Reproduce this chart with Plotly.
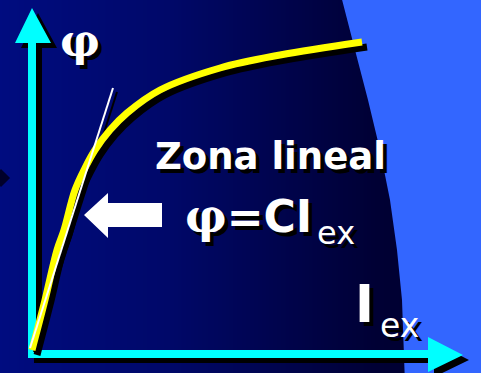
import numpy as np
import plotly.graph_objects as go

# ---- data (diagram units: origin at the axes corner) ----
iex = [0, 13, 25, 32, 43, 53, 63, 78, 95, 128, 188, 248, 330]
phi = [4, 54, 104, 124, 164, 186, 204, 224, 241, 264, 286, 299, 312]
tangent_x = [-2, 81]
tangent_y = [6, 266]

# lighter background region boundary (right side)
region_x = [306, 323, 336, 348, 358, 365, 370, 373, 470, 470]
region_y = [370, 304, 254, 204, 154, 104, 54, -30, -30, 370]

# view range
XR = [-32, 449]
YR = [-19, 354]

W, H = 481, 373
SH = 5  # shadow offset

fig = go.Figure()

# background gradient
gx = np.linspace(XR[0] - 2, XR[1] + 2, 120)
gz = [list(gx), list(gx)]
fig.add_trace(go.Heatmap(
    x=gx, y=[YR[0] - 2, YR[1] + 2], z=gz, zsmooth="best", showscale=False,
    hoverinfo="skip",
    colorscale=[[0.0, "rgb(0,12,128)"], [0.35, "rgb(0,8,105)"],
                [0.62, "rgb(0,3,72)"], [0.78, "rgb(0,0,52)"], [1.0, "rgb(0,0,45)"]],
))

# light blue region
fig.add_trace(go.Scatter(x=region_x, y=region_y, fill="toself", mode="none",
                         fillcolor="#3366FF", hoverinfo="skip"))

# small dark bullet on the left edge
fig.add_trace(go.Scatter(x=[-31], y=[176], mode="markers", hoverinfo="skip",
                         marker=dict(symbol="diamond", size=14, color="#00002a")))


def poly(xs, ys, color, dx=0, dy=0):
    fig.add_trace(go.Scatter(x=[v + dx for v in xs], y=[v + dy for v in ys],
                             fill="toself", mode="none", fillcolor=color,
                             hoverinfo="skip"))


# axes (arrows): vertical and horizontal
vx = [-4, 4, 4, 19, 0, -17, -4]
vy = [-4, -4, 311, 311, 346, 311, 311]
hx = [-4, 396, 396, 431, 396, 396, -4]
hy = [4, 4, 17, -1, -18, -4, -4]
poly(vx, vy, "black", 6, -5)
poly(hx, hy, "black", 6, -5)
poly(vx, vy, "#00FFFF")
poly(hx, hy, "#00FFFF")

# curve shadow + tangent shadow
fig.add_trace(go.Scatter(x=[v + SH for v in iex], y=[v - SH for v in phi],
                         mode="lines", line=dict(color="black", width=7, shape="spline"),
                         hoverinfo="skip"))
fig.add_trace(go.Scatter(x=[v + 4 for v in tangent_x], y=[v - 4 for v in tangent_y],
                         mode="lines", line=dict(color="black", width=2),
                         hoverinfo="skip"))
# yellow curve
fig.add_trace(go.Scatter(x=iex, y=phi, mode="lines",
                         line=dict(color="#FFFF00", width=7, shape="spline"),
                         hoverinfo="skip"))
# white tangent
fig.add_trace(go.Scatter(x=tangent_x, y=tangent_y, mode="lines",
                         line=dict(color="white", width=2), hoverinfo="skip"))

# white block arrow pointing left
ax = [52, 76, 76, 130, 130, 76, 76, 52]
ay = [139, 161, 151, 151, 127, 127, 116, 139]
poly(ax, ay, "white")

SANS = "DejaVu Sans"
SERIF = "DejaVu Serif"


def label(text, x, y, size, family, bold=True, xanchor="center"):
    t = f"<b>{text}</b>" if bold else text
    fig.add_annotation(x=x, y=y, xref="x", yref="y", text=t,
                       showarrow=False, xanchor=xanchor, yanchor="middle",
                       font=dict(family=family, size=size, color="white",
                                 shadow="4px 4px 0px black"))


label("φ", 48, 314, 44, SERIF)
label("Zona lineal", 238, 197.5, 37, SANS)
label(f'<span style="font-family:{SERIF};font-size:46px">φ</span>=CI', 216, 138, 44, SANS)
label("ex", 304, 121, 32, SANS, bold=False)
label("I", 332.5, 49.5, 51, SANS)
label("ex", 367, 29, 33, SANS, bold=False)

fig.update_layout(
    width=W, height=H, margin=dict(l=0, r=0, t=0, b=0),
    paper_bgcolor="rgb(0,8,100)", plot_bgcolor="rgb(0,8,100)",
    showlegend=False,
    xaxis=dict(range=XR, visible=False, fixedrange=True),
    yaxis=dict(range=YR, visible=False, fixedrange=True),
)

fig.write_html("out.html", config={"displayModeBar": False},
               post_script="document.body.style.margin='0';document.body.style.overflow='hidden';")
